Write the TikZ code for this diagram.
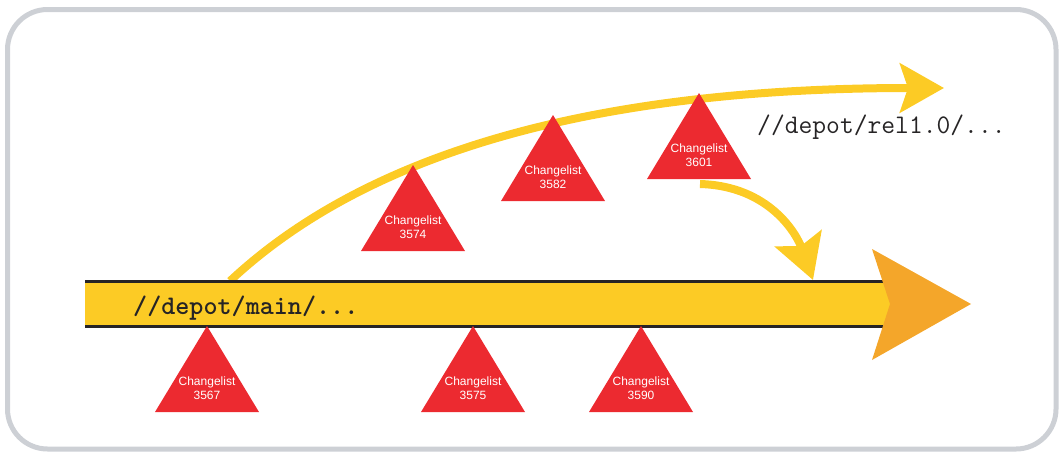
\documentclass[tikz,border=0pt]{standalone}
\usepackage{fontspec}
\setmainfont{Liberation Sans}
\usetikzlibrary{arrows.meta}
\definecolor{branchyellow}{RGB}{252,203,37}
\definecolor{headorange}{RGB}{244,166,42}
\definecolor{changered}{RGB}{236,42,48}
\definecolor{framegray}{RGB}{205,208,213}
\definecolor{pathgray}{RGB}{38,36,37}
\tikzset{branch/.style={-{Stealth[length=44pt,width=49pt,inset=8pt]},line width=8pt,branchyellow},
 changelist/.style={text=white,align=center,inner sep=0pt,font=\fontsize{12}{13.5}\selectfont},
 depotpath/.style={font=\ttfamily\fontsize{26.8}{30}\selectfont,text=pathgray,inner sep=0pt}}

\begin{document}
\begin{tikzpicture}[x=1pt,y=-1pt]
\useasboundingbox (0,0) rectangle (1062,453);
\draw[framegray,line width=5pt,rounded corners=40pt] (7.5,9.5) rectangle (1056,449);
% branch and merge
\coordinate (branch) at (230,281);
\coordinate (relend) at (944,88);
\coordinate (mergeout) at (700,184);
\coordinate (mergein) at (813,280);
\draw[branch] (branch) .. controls (370,150) and (600,88) .. (relend);
\draw[branch] (mergeout) .. controls (770,186) and (797,235) .. (mergein);
% main line
\fill[branchyellow] (85,281) rectangle (892,326);
\draw[line width=3pt,pathgray] (85,281) -- (885,281) (85,326) -- (885,326);
\fill[headorange] (872,249) -- (971,304) -- (872,360) -- (890,304) -- cycle;
\node[depotpath,anchor=base west] (main) at (133,314) {\bfseries //depot/main/...};
\node[depotpath,anchor=base west] (rel) at (757,133) {//depot/rel1.0/...};
\foreach \apx/\apy/\num in {207/326/3567,473/326/3575,641/326/3590,413/165/3574,553/115/3582,699/93/3601} {
 \fill[changered] (\apx,\apy) -- ++(52,86) -- ++(-104,0) -- cycle;
 \node[changelist] (cl\num) at (\apx,\apy+62) {Changelist\\\num};
}
\end{tikzpicture}
\end{document}
